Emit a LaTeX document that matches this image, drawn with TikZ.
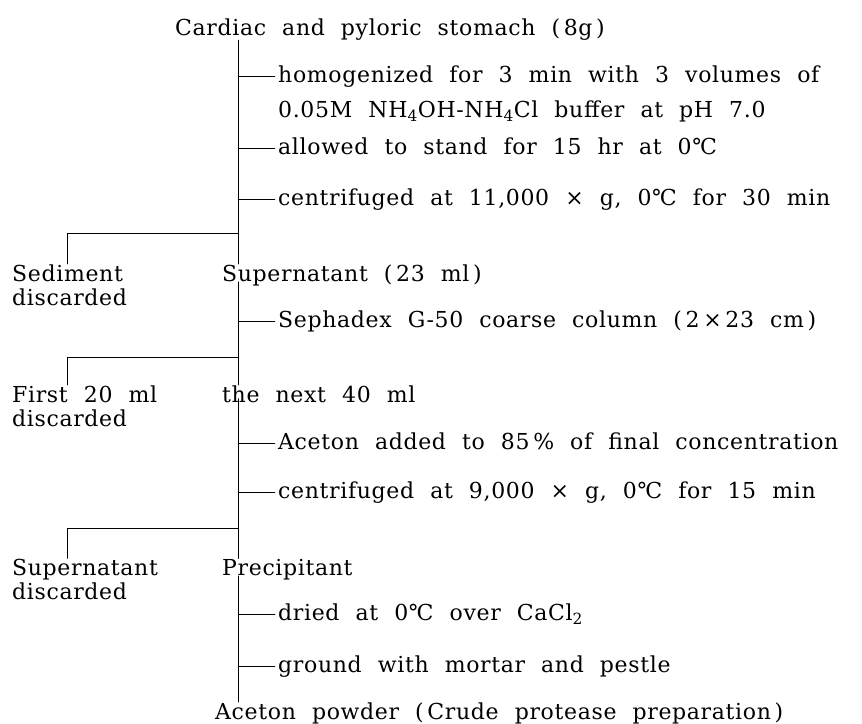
\documentclass[tikz,border=0pt]{standalone}
\usepackage{fontspec}
\setmainfont{DejaVu Serif}[WordSpace=2.1, LetterSpace=3]
\usetikzlibrary{positioning}
\newcommand{\stepline}[2][6pt]{\draw ([yshift=#1]#2.base west) -- ([yshift=#1]#2.base west -| vx);}
\begin{document}
\begin{tikzpicture}[x=1pt, y=-1pt, font=\fontsize{22}{24}\selectfont, line join=round, line cap=round]
\tikzset{item/.style={anchor=base west, inner sep=0pt, align=left},
  stepnote/.style={anchor=base west, inner xsep=3pt, inner ysep=0pt, align=left}}
\useasboundingbox (0,0) rectangle (862,723);
% main column
\coordinate (vx) at (238,0);
\node[item] (stomach) at (175,35) {Cardiac and pyloric stomach (\,8g\,)};
\node[stepnote] (homog) at (275,117) {homogenized for 3 min with 3 volumes of\\[11pt]0.05M NH\textsubscript{4}OH-NH\textsubscript{4}Cl buffer at pH 7.0};
\node[stepnote] (stand) at (275,154) {allowed to stand for 15 hr at 0℃};
\node[stepnote] (cent1) at (275,205) {centrifuged at 11,000 × g, 0℃ for 30 min};
\node[item] (sup1) at (222,281) {Supernatant (\,23 ml\,)};
\node[item] (sed) at (12,305) {Sediment\\discarded};
\node[stepnote] (seph) at (275,327) {Sephadex G-50 coarse column (\,2\,×\,23 cm\,)};
\node[item] (next) at (222,402) {the next 40 ml};
\node[item] (first) at (12,426) {First 20 ml\\discarded};
\node[stepnote] (acet) at (275,449) {Aceton added to 85\,\% of final concentration};
\node[stepnote] (cent2) at (275,498) {centrifuged at 9,000 × g, 0℃ for 15 min};
\node[item] (prec) at (222,575) {Precipitant};
\node[item] (sup2) at (12,599) {Supernatant\\discarded};
\node[stepnote] (dried) at (275,620) {dried at 0℃ over CaCl\textsubscript{2}};
\node[stepnote] (ground) at (275,672) {ground with mortar and pestle};
\node[item] (powder) at (215,719) {Aceton powder (\,Crude protease preparation\,)};
% branch points
\coordinate (j1) at (238,233);
\coordinate (j2) at (238,357);
\coordinate (j3) at (238,528);
% vertical runs
\draw (stomach.south -| vx) coordinate (t0) (t0) -- (sup1.north -| vx);
\draw (sup1.south -| vx) ++(0,-4) coordinate (t1) (t1) -- (next.north -| vx);
\draw (next.south -| vx) ++(0,-4) coordinate (t2) (t2) -- (prec.north -| vx);
\draw (prec.south -| vx) ++(0,-4) coordinate (t3) (t3) -- (powder.north -| vx);
% discarded branches
\draw (j1) -| ([xshift=55pt]sed.north west);
\draw (j2) -| ([xshift=55pt]first.north west);
\draw (j3) -| ([xshift=55pt]sup2.north west);
% steps
\stepline[41pt]{homog}
\stepline{stand}
\stepline{cent1}
\stepline{seph}
\stepline{acet}
\stepline{cent2}
\stepline{dried}
\stepline{ground}
\end{tikzpicture}
\end{document}
